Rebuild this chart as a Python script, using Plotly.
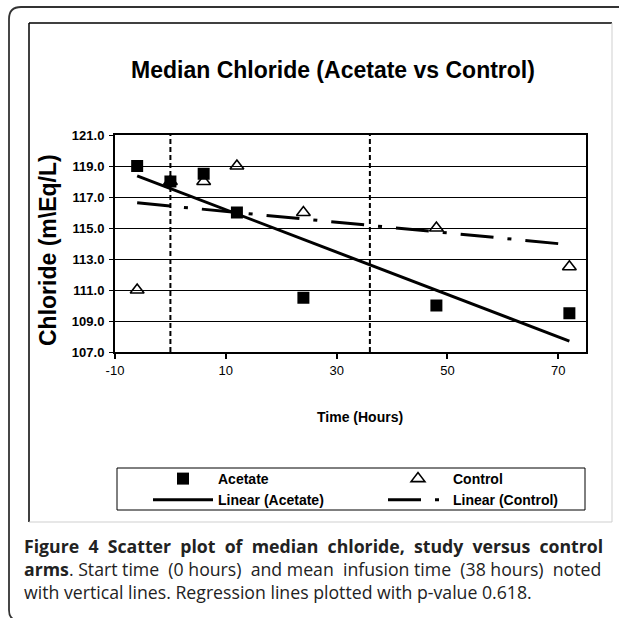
import numpy as np
import plotly.graph_objects as go

# ---------------- data ----------------
time_hours = [-6, 0, 6, 12, 24, 48, 72]
acetate_chloride = [119.0, 118.0, 118.5, 116.0, 110.5, 110.0, 109.5]
control_chloride = [111.0, 118.0, 118.0, 119.0, 116.0, 115.0, 112.5]
reference_lines_hours = [0, 36]
x_tick_values = [-10, 10, 30, 50, 70]
x_tick_labels = ["-10", "10", "30", "50", "70"]
y_tick_values = [107, 109, 111, 113, 115, 117, 119, 121]
y_tick_labels = ["107.0", "109.0", "111.0", "113.0", "115.0", "117.0", "119.0", "121.0"]

# ---------------- geometry ----------------
FIG_W, FIG_H = 619, 618
M_L, M_R, M_T, M_B = 115, 33, 135, 266
PW = FIG_W - M_L - M_R
PH = FIG_H - M_T - M_B


def px(x):
    return (x - M_L) / PW


def py(y):
    return (FIG_H - M_B - y) / PH


FONT = "Liberation Sans, Arial, sans-serif"
CAP_FONT = "Open Sans, Noto Sans, sans-serif"
NB = "\u00a0"


def spread(text, extra):
    """Widen word gaps with non-breaking spaces (mimics justified text)."""
    words = text.split(" ")
    gaps = len(words) - 1
    out = words[0]
    for i, w in enumerate(words[1:]):
        n = (extra * (i + 1)) // gaps - (extra * i) // gaps
        out += NB * n + " " + w
    return out


# least-squares trend lines (as the spreadsheet's "Linear" trendline)
fit_x = np.array([min(time_hours), max(time_hours)], dtype=float)
a_coef = np.polyfit(time_hours, acetate_chloride, 1)
c_coef = np.polyfit(time_hours, control_chloride, 1)

fig = go.Figure()
fig.add_trace(go.Scatter(
    x=time_hours, y=acetate_chloride, mode="markers", name="Acetate",
    marker=dict(symbol="square", size=12, color="black"), legend="legend"))
fig.add_trace(go.Scatter(
    x=time_hours, y=control_chloride, mode="markers", name="Control",
    marker=dict(symbol="triangle-up-open", size=12, color="black", line=dict(width=1.6)),
    legend="legend2"))
fig.add_trace(go.Scatter(
    x=fit_x, y=np.polyval(a_coef, fit_x), mode="lines", name="Linear (Acetate)",
    line=dict(color="black", width=3), legend="legend"))
fig.add_trace(go.Scatter(
    x=fit_x, y=np.polyval(c_coef, fit_x), mode="lines", name="Linear (Control)",
    line=dict(color="black", width=3, dash="33px,14px,4px,14px"), legend="legend2"))

legend_common = dict(
    orientation="v", xanchor="left", yanchor="top", itemwidth=60,
    bgcolor="rgba(0,0,0,0)", borderwidth=0, tracegroupgap=0,
    font=dict(family=FONT, size=14, color="black", weight="bold"))

shapes = []
# vertical reference lines (start time, mean infusion time)
for v in reference_lines_hours:
    shapes.append(dict(type="line", xref="x", yref="paper", x0=v, x1=v, y0=0, y1=1,
                       line=dict(color="black", width=2, dash="5px,3px")))
shapes += [
    # legend frame
    dict(type="rect", xref="paper", yref="paper", x0=px(117), x1=px(585), y0=py(510), y1=py(468),
         line=dict(color="black", width=1), fillcolor="rgba(0,0,0,0)", layer="above"),
    # inner chart frame
    dict(type="line", xref="paper", yref="paper", x0=px(29), x1=px(612), y0=py(23), y1=py(23),
         line=dict(color="black", width=1.5)),
    dict(type="line", xref="paper", yref="paper", x0=px(29), x1=px(29), y0=py(23), y1=py(522),
         line=dict(color="black", width=1.5)),
    dict(type="line", xref="paper", yref="paper", x0=px(612), x1=px(612), y0=py(23), y1=py(522),
         line=dict(color="#cfcfcf", width=1)),
    dict(type="line", xref="paper", yref="paper", x0=px(29), x1=px(612), y0=py(522), y1=py(522),
         line=dict(color="#cfcfcf", width=1)),
    # outer rounded frame
    dict(type="path", xref="paper", yref="paper",
         path=(f"M {px(619)},{py(7)} L {px(21)},{py(7)} Q {px(9)},{py(7)} {px(9)},{py(19)} "
               f"L {px(9)},{py(610)} Q {px(9)},{py(618)} {px(15)},{py(620)}"),
         line=dict(color="#333333", width=1.8)),
]

caption = ("<b>" + spread("Figure 4 Scatter plot of median chloride, study versus control", 9) + "</b><br>"
           "<b>arms</b>." + spread(" Start time (0 hours) and mean infusion time (38 hours) noted", 5)
           + "<br>with vertical lines. Regression lines plotted with p-value 0.618.")

annotations = [
    dict(text="Chloride (m\\Eq/L)", textangle=-90, x=px(48), y=py(250), xref="paper", yref="paper",
         showarrow=False, xanchor="center", yanchor="middle",
         font=dict(family=FONT, size=23, color="black", weight="bold")),
    dict(text="Time (Hours)", x=px(360), y=py(417), xref="paper", yref="paper",
         showarrow=False, xanchor="center", yanchor="middle",
         font=dict(family=FONT, size=14, color="black", weight="bold")),
    dict(text=caption, x=px(23), y=py(569), xref="paper", yref="paper", showarrow=False,
         xanchor="left", yanchor="middle", align="left", borderpad=0,
         font=dict(family=CAP_FONT, size=17.7, color="#222222")),
]

fig.update_layout(
    width=FIG_W, height=FIG_H, autosize=False,
    margin=dict(l=M_L, r=M_R, t=M_T, b=M_B, pad=0),
    paper_bgcolor="white", plot_bgcolor="white",
    title=dict(text="Median Chloride (Acetate vs Control)", x=333 / FIG_W, xref="container",
               xanchor="center", y=1 - 70 / FIG_H, yref="container", yanchor="middle",
               font=dict(family=FONT, size=23, color="black", weight="bold")),
    xaxis=dict(range=[-10, 75], tickvals=x_tick_values, ticktext=x_tick_labels,
               ticks="outside", ticklen=5,
               tickcolor="black", tickwidth=1.5, showline=True, linewidth=2, linecolor="black",
               mirror=True, showgrid=False, zeroline=False,
               tickfont=dict(family=FONT, size=13, color="black")),
    yaxis=dict(range=[107, 121], tickvals=y_tick_values, ticktext=y_tick_labels,
               ticks="outside", ticklen=4, tickcolor="black", ticklabelstandoff=2,
               showline=True, linewidth=2, linecolor="black", mirror=True,
               showgrid=True, gridcolor="black", gridwidth=1, zeroline=False,
               tickfont=dict(family=FONT, size=13, color="black", weight="bold")),
    legend=dict(x=px(148), y=py(463), **legend_common),
    legend2=dict(x=px(383), y=py(463), **legend_common),
    shapes=shapes,
    annotations=annotations,
    showlegend=True,
)

fig.write_html("out.html", config={"displayModeBar": False},
               post_script="document.body.style.margin='0px';")
